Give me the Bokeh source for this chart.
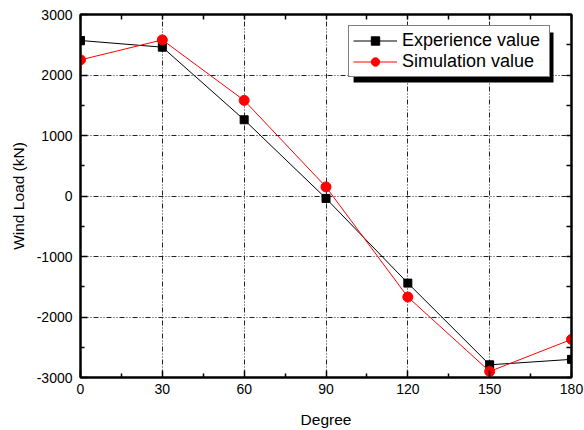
from bokeh.plotting import figure
from bokeh.models import LinearAxis, FixedTicker, Legend, LegendItem, BoxAnnotation, Range1d, Grid
from bokeh.embed import file_html
from bokeh.resources import INLINE

degrees = [0, 30, 60, 90, 120, 150, 180]
experience = [2570, 2460, 1260, -40, -1440, -2790, -2700]
simulation = [2250, 2580, 1580, 150, -1670, -2900, -2370]
x_ticks = [0, 30, 60, 90, 120, 150, 180]
x_minor = [15, 45, 75, 105, 135, 165]
y_ticks = [-3000, -2000, -1000, 0, 1000, 2000, 3000]
y_minor = [-2500, -1500, -500, 500, 1500, 2500]

FONT = "Liberation Sans"

p = figure(width=584, height=430, output_backend="svg", toolbar_location=None,
           x_range=Range1d(0, 180), y_range=Range1d(-3000, 3000),
           min_border_left=80, min_border_right=13, min_border_top=14, min_border_bottom=53)
p.xaxis.visible = False
p.yaxis.visible = False
p.xgrid.visible = False
p.ygrid.visible = False

def style_axis(ax):
    ax.axis_line_width = 2
    ax.axis_line_color = "black"
    ax.major_tick_in = 7
    ax.major_tick_out = 0
    ax.minor_tick_in = 4
    ax.minor_tick_out = 0
    ax.major_tick_line_width = 1.5
    ax.minor_tick_line_width = 1.5
    ax.major_label_text_font = FONT
    ax.major_label_text_font_size = "14px"
    ax.major_label_text_color = "black"
    ax.axis_label_text_font = FONT
    ax.axis_label_text_font_size = "15.5px"
    ax.axis_label_text_font_style = "normal"
    ax.axis_label_text_color = "black"

xb = LinearAxis(axis_label="Degree", ticker=FixedTicker(ticks=x_ticks, minor_ticks=x_minor))
style_axis(xb)
xb.major_label_standoff = 6
xb.axis_label_standoff = 14
p.add_layout(xb, "below")

yl = LinearAxis(axis_label="Wind Load (kN)", ticker=FixedTicker(ticks=y_ticks, minor_ticks=y_minor))
style_axis(yl)
yl.major_label_standoff = 8
yl.axis_label_standoff = 7
yl.major_label_overrides = {t: str(t) for t in y_ticks}
p.add_layout(yl, "left")

# top / right frame ticks (no labels: all ticks as minor ticks)
xt = LinearAxis(ticker=FixedTicker(ticks=[], minor_ticks=x_ticks + x_minor))
style_axis(xt)
xt.minor_tick_in = 5
p.add_layout(xt, "above")
yr = LinearAxis(ticker=FixedTicker(ticks=[], minor_ticks=y_ticks + y_minor))
style_axis(yr)
yr.minor_tick_in = 5
p.add_layout(yr, "right")

gx = Grid(dimension=0, ticker=FixedTicker(ticks=x_ticks), grid_line_color="#222222",
          grid_line_dash="5 2 1 2 1 2", grid_line_width=1)
gy = Grid(dimension=1, ticker=FixedTicker(ticks=y_ticks), grid_line_color="#222222",
          grid_line_dash="5 2 1 2 1 2", grid_line_width=1)
p.add_layout(gx)
p.add_layout(gy)
p.outline_line_color = "black"
p.outline_line_width = 2

l1 = p.line(degrees, experience, line_color="black", line_width=1)
m1 = p.scatter(degrees, experience, marker="square", size=8, fill_color="black", line_color="black")
l2 = p.line(degrees, simulation, line_color="red", line_width=1)
m2 = p.scatter(degrees, simulation, marker="circle", size=10, fill_color="red", line_color="red")

# legend drop shadow
shadow = BoxAnnotation(left=100.1, right=173.4, top=2702, bottom=1876,
                       fill_color="black", fill_alpha=1, line_color=None, level="annotation")
p.add_layout(shadow)

legend = Legend(items=[LegendItem(label="Experience value", renderers=[l1, m1]),
                       LegendItem(label="Simulation value", renderers=[l2, m2])],
                location=(268, 300), label_text_font=FONT, label_text_font_size="18px",
                label_text_color="black",
                border_line_color="black", border_line_width=1, background_fill_alpha=1,
                glyph_width=44, glyph_height=21, label_height=21, label_width=143,
                padding=4, spacing=0, margin=0, label_standoff=5, level="annotation")
p.add_layout(legend, "center")

open("out.html", "w").write(file_html(p, INLINE))
